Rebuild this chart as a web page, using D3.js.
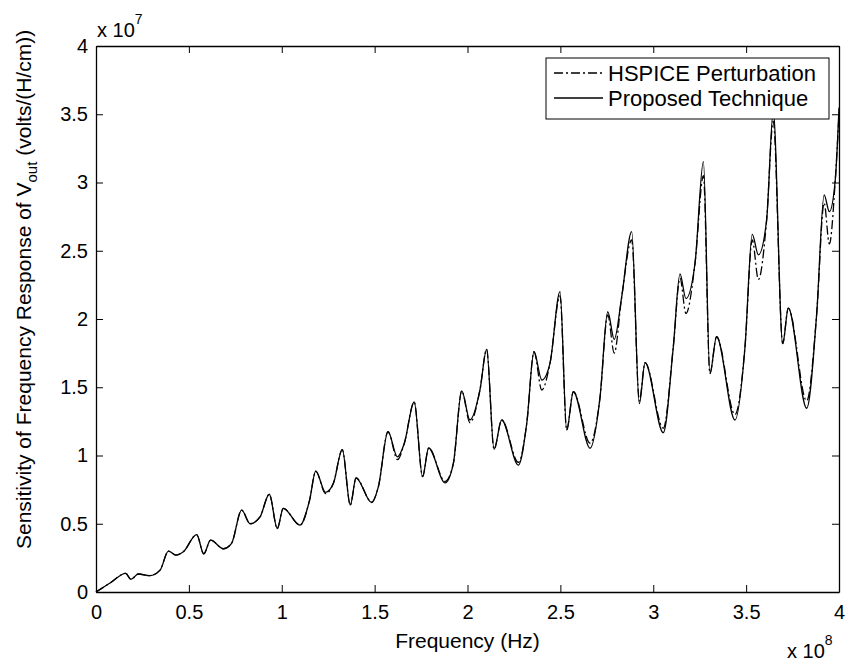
<!DOCTYPE html>
<html><head><meta charset="utf-8">
<script src="https://cdn.jsdelivr.net/npm/d3@7"></script>
<style>body{margin:0;background:#fff}svg{display:block}text{font-family:"Liberation Sans",Arial,sans-serif;fill:#000}</style>
</head><body><svg id="c" width="848" height="665"></svg>
<script>
// frequency in units of 1e8 Hz
const freq = [0,0.08,0.16,0.188,0.228,0.29,0.345,0.39,0.43,0.47,0.542,0.58,0.617,0.686,0.73,0.784,0.83,0.883,0.933,0.976,1.008,1.098,1.15,1.183,1.236,1.278,1.326,1.369,1.40,1.484,1.52,1.572,1.623,1.66,1.713,1.758,1.791,1.879,1.924,1.969,2.013,2.067,2.103,2.143,2.184,2.274,2.319,2.358,2.40,2.444,2.498,2.534,2.57,2.66,2.713,2.755,2.79,2.83,2.884,2.925,2.956,3.054,3.108,3.144,3.176,3.225,3.27,3.305,3.341,3.44,3.494,3.533,3.566,3.61,3.646,3.697,3.727,3.826,3.88,3.92,3.948,3.98,4.0];
// sensitivity in units of 1e7 volts/(H/cm)
const proposed = [0,0.07,0.137,0.093,0.132,0.12,0.16,0.30,0.27,0.295,0.42,0.28,0.38,0.317,0.357,0.60,0.50,0.55,0.716,0.465,0.613,0.49,0.674,0.886,0.73,0.796,1.043,0.637,0.835,0.655,0.77,1.174,0.99,1.09,1.392,0.845,1.055,0.80,0.943,1.473,1.26,1.48,1.778,1.045,1.26,0.93,1.236,1.76,1.553,1.675,2.20,1.187,1.467,1.053,1.42,2.053,1.85,2.16,2.64,1.38,1.68,1.167,1.797,2.33,2.15,2.41,3.153,1.60,1.87,1.26,1.797,2.62,2.47,2.72,3.52,1.82,2.08,1.346,2.04,2.91,2.786,3.02,3.55];
const hspice = [0,0.07,0.137,0.093,0.132,0.12,0.16,0.30,0.27,0.295,0.42,0.28,0.38,0.317,0.357,0.60,0.50,0.55,0.716,0.465,0.613,0.49,0.674,0.886,0.72,0.796,1.043,0.637,0.835,0.66,0.77,1.174,0.97,1.09,1.392,0.845,1.055,0.81,0.943,1.473,1.24,1.48,1.778,1.045,1.26,0.95,1.236,1.76,1.48,1.675,2.17,1.187,1.467,1.09,1.42,2.03,1.75,2.16,2.58,1.40,1.68,1.20,1.797,2.30,2.04,2.41,3.05,1.60,1.87,1.30,1.797,2.58,2.29,2.72,3.45,1.82,2.08,1.40,2.04,2.85,2.55,3.02,3.5];
const xTicks = [0,0.5,1,1.5,2,2.5,3,3.5,4];
const yTicks = [0,0.5,1,1.5,2,2.5,3,3.5,4];
const legendLabels = ["HSPICE Perturbation","Proposed Technique"];

const L=96,R=839,T=46,B=592;
const svg=d3.select("#c");
const x=d3.scaleLinear().domain([0,4]).range([L,R]);
const y=d3.scaleLinear().domain([0,4]).range([B,T]);
const fs=20;

// curves
const line=d3.line().x(d=>x(d[0])).y(d=>y(d[1])).curve(d3.curveMonotoneX);
const g=svg.append("g");
g.append("path").datum(freq.map((f,i)=>[f,hspice[i]])).attr("d",line)
 .attr("fill","none").attr("stroke","#000").attr("stroke-width",1.3).attr("stroke-dasharray","9,3,2,3");
g.append("path").datum(freq.map((f,i)=>[f,proposed[i]])).attr("d",line)
 .attr("fill","none").attr("stroke","#000").attr("stroke-width",1.3);

// axes (inward ticks on all sides)
const tl=7;
const fmt=d=>d3.format("~g")(d);
const ax=svg.append("g").attr("transform",`translate(0,${B})`).call(d3.axisBottom(x).tickValues(xTicks).tickFormat(fmt).tickSizeInner(-tl).tickSizeOuter(0).tickPadding(13));
const axT=svg.append("g").attr("transform",`translate(0,${T})`).call(d3.axisTop(x).tickValues(xTicks).tickFormat("").tickSizeInner(-tl).tickSizeOuter(0));
const ay=svg.append("g").attr("transform",`translate(${L},0)`).call(d3.axisLeft(y).tickValues(yTicks).tickFormat(fmt).tickSizeInner(-tl).tickSizeOuter(0).tickPadding(8));
const ayR=svg.append("g").attr("transform",`translate(${R},0)`).call(d3.axisRight(y).tickValues(yTicks).tickFormat("").tickSizeInner(-tl).tickSizeOuter(0));
[ax,axT,ay,ayR].forEach(a=>{a.select(".domain").attr("stroke","#000").attr("stroke-width",1.3);a.selectAll(".tick line").attr("stroke","#000");a.selectAll("text").attr("font-size",fs).attr("font-family","Liberation Sans, Arial, sans-serif").attr("fill","#000");});

// exponent labels
const e7=svg.append("text").attr("x",97).attr("y",37).attr("font-size",fs);
e7.append("tspan").text("x 10");
e7.append("tspan").attr("dy",-13).attr("font-size",14).text("7");
const e8=svg.append("text").attr("x",787).attr("y",658).attr("font-size",fs);
e8.append("tspan").text("x 10");
e8.append("tspan").attr("dy",-13).attr("font-size",14).text("8");

// axis labels
svg.append("text").attr("x",(L+R)/2).attr("y",648).attr("text-anchor","middle").attr("font-size",21).text("Frequency (Hz)");
const yl=svg.append("text").attr("transform",`translate(31,549) rotate(-90)`).attr("text-anchor","start").attr("font-size",21);
yl.append("tspan").text("Sensitivity of Frequency Response of V");
yl.append("tspan").attr("dy",6).attr("font-size",15).text("out");
yl.append("tspan").attr("dy",-6).text(" (volts/(H/cm))");

// legend
const lg=svg.append("g");
const bx=546,by=58,bw=283,bh=61;
lg.append("rect").attr("x",bx).attr("y",by).attr("width",bw).attr("height",bh).attr("fill","#fff").attr("stroke","#000").attr("stroke-width",1);
legendLabels.forEach((t,i)=>{
  const yy=by+15+i*25;
  lg.append("line").attr("x1",bx+8).attr("x2",bx+57).attr("y1",yy).attr("y2",yy).attr("stroke","#000").attr("stroke-width",1.3).attr("stroke-dasharray",i===0?"9,3,2,3":null);
  lg.append("text").attr("x",bx+62).attr("y",yy+8).attr("font-size",22).text(t);
});
</script></body></html>
